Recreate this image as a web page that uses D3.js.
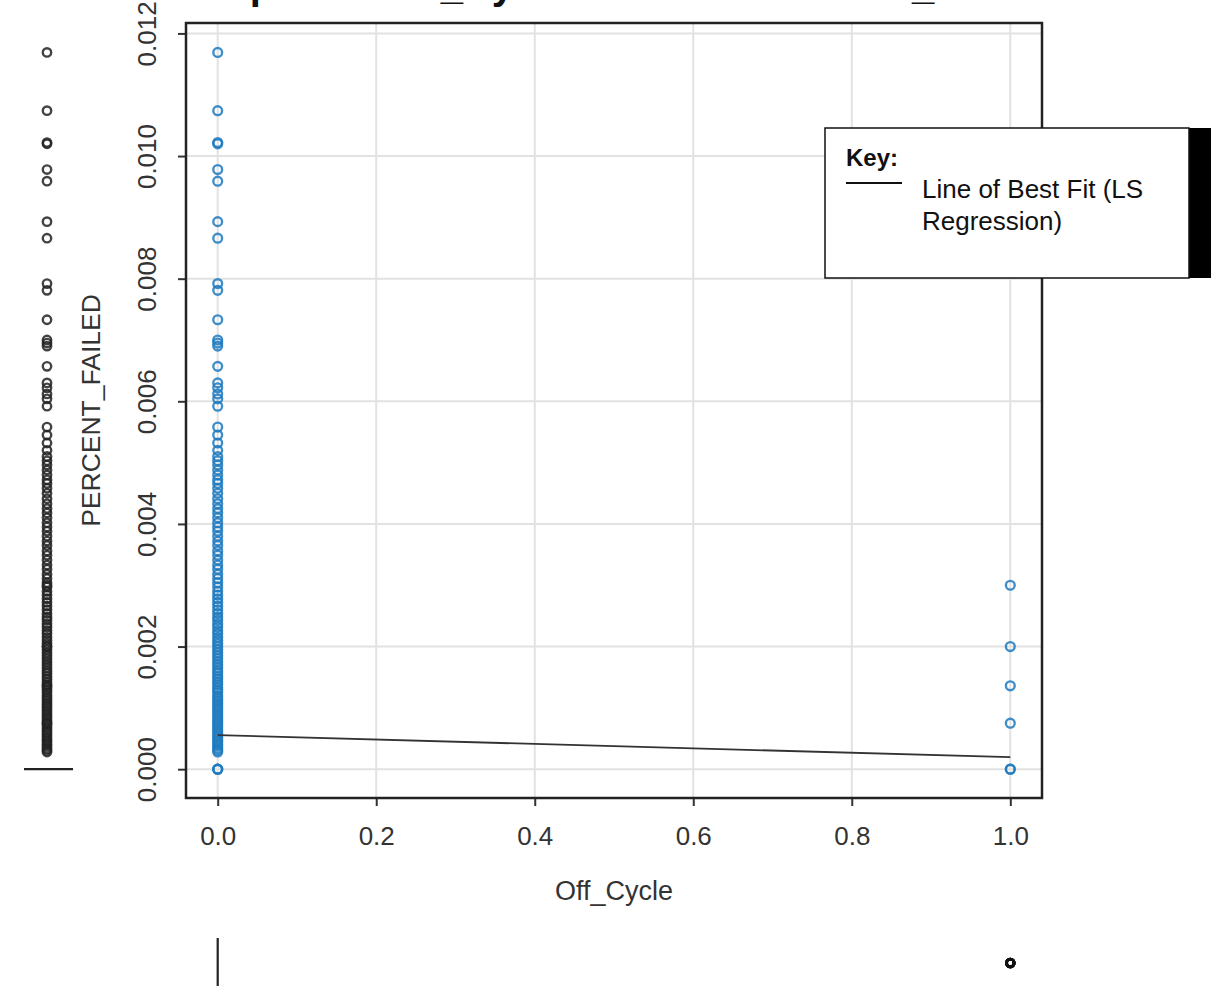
<!DOCTYPE html>
<html>
<head>
<meta charset="utf-8">
<script src="https://cdn.jsdelivr.net/npm/d3@7"></script>
<style>
  body { margin: 0; background: #fff; }
  svg { display: block; font-family: "Liberation Sans", Arial, sans-serif; }
</style>
</head>
<body>
<svg id="canvas" width="1211" height="986"></svg>
<script>
// values
let onCycleFailed = [0.01169, 0.01074, 0.01022, 0.01020, 0.00978, 0.00959, 0.00893, 0.00866,
  0.00792, 0.00781, 0.00733, 0.00700, 0.00695, 0.00690, 0.00657, 0.00630, 0.00622, 0.00612,
  0.00604, 0.00592, 0.00558, 0.00545, 0.00532, 0.00520, 0.00510, 0.00503, 0.00496, 0.00488,
  0.00480, 0.00472, 0.00466, 0.00458, 0.00450, 0.00441, 0.00433, 0.00425, 0.00418, 0.00410,
  0.00402, 0.00395, 0.00388, 0.00380, 0.00372, 0.00365, 0.00356, 0.00349, 0.00341, 0.00333,
  0.00326, 0.00318, 0.00311, 0.00304, 0.00297, 0.00290, 0.00284, 0.00278, 0.00272, 0.00266,
  0.00260, 0.00254, 0.00248, 0.00243, 0.00237, 0.00232, 0.00226, 0.00221, 0.00215, 0.00210,
  0.00205, 0.00200, 0.00195, 0.00190, 0.00185, 0.00180, 0.00175, 0.00170, 0.00165, 0.00160,
  0.00156, 0.00151, 0.00147, 0.00142, 0.00138, 0.00133, 0.00129, 0.00125, 0.00120, 0.00116,
  0.00112, 0.00108, 0.00104, 0.00100, 0.00096, 0.00092, 0.00088, 0.00084, 0.00080, 0.00076,
  0.00072, 0.00068, 0.00064, 0.00060, 0.00056, 0.00052, 0.00048, 0.00045, 0.00041, 0.00038,
  0.00034, 0.00031, 0.00028, 0, 0, 0]
let offCycleFailed = [0.00300, 0.00200, 0.00136, 0.00075, 0, 0]

let xTicks = [0, 0.2, 0.4, 0.6, 0.8, 1.0]
let yTicks = [0, 0.002, 0.004, 0.006, 0.008, 0.010, 0.012]
let fitStart = [0, 0.000556]
let fitEnd = [1, 0.000196]

let titleText = 'Scatterplot of Off_Cycle versus PERCENT_FAILED'
let xLabel = 'Off_Cycle'
let yLabel = 'PERCENT_FAILED'
let keyTitle = 'Key:'
let keyLines = ['Line of Best Fit (LS', 'Regression)']

let points = onCycleFailed.map(v => ({x: 0, y: v}))
  .concat(offCycleFailed.map(v => ({x: 1, y: v})))

let svg = d3.select('#canvas')

let plotLeft = 186, plotRight = 1042, plotTop = 23, plotBottom = 798
let xScale = d3.scaleLinear().domain([-0.04, 1.04]).range([plotLeft, plotRight])
let yScale = d3.scaleLinear().domain([-0.00047, 0.01217]).range([plotBottom, plotTop])

// title, cut off at the top edge as in the source image
svg.append('text')
  .attr('x', 114).attr('y', -1)
  .attr('font-size', 40).attr('font-weight', 'bold')
  .attr('fill', '#111')
  .text(titleText)

// grid
svg.append('g').selectAll('line')
  .data(xTicks).enter().append('line')
  .attr('x1', d => xScale(d)).attr('x2', d => xScale(d))
  .attr('y1', plotTop).attr('y2', plotBottom)
  .attr('stroke', '#e2e2e2').attr('stroke-width', 2)
svg.append('g').selectAll('line')
  .data(yTicks).enter().append('line')
  .attr('x1', plotLeft).attr('x2', plotRight)
  .attr('y1', d => yScale(d)).attr('y2', d => yScale(d))
  .attr('stroke', '#e2e2e2').attr('stroke-width', 2)

// axes
let xAxis = d3.axisBottom(xScale).tickValues(xTicks).tickSize(8).tickPadding(21).tickFormat(d3.format('.1f'))
let yAxis = d3.axisLeft(yScale).tickValues(yTicks).tickSize(8).tickFormat(d3.format('.3f'))

let gx = svg.append('g').attr('transform', `translate(0,${plotBottom})`).call(xAxis)
gx.select('.domain').remove()
gx.selectAll('line').attr('stroke', '#333').attr('stroke-width', 2)
gx.selectAll('text').attr('font-size', 26).attr('fill', '#333')
  .attr('font-family', '"Liberation Sans", Arial, sans-serif')

let gy = svg.append('g').attr('transform', `translate(${plotLeft},0)`).call(yAxis)
gy.select('.domain').remove()
gy.selectAll('line').attr('stroke', '#333').attr('stroke-width', 2)
gy.selectAll('text')
  .attr('font-size', 26).attr('fill', '#333')
  .attr('font-family', '"Liberation Sans", Arial, sans-serif')
  .attr('text-anchor', 'middle').attr('dy', null)
  .attr('x', null)
  .attr('transform', 'translate(-30,0) rotate(-90)')

// frame
svg.append('rect')
  .attr('x', plotLeft).attr('y', plotTop)
  .attr('width', plotRight - plotLeft).attr('height', plotBottom - plotTop)
  .attr('fill', 'none').attr('stroke', '#222').attr('stroke-width', 2.5)

// axis titles
svg.append('text')
  .attr('x', (plotLeft + plotRight) / 2).attr('y', 900)
  .attr('text-anchor', 'middle').attr('font-size', 27).attr('fill', '#333')
  .text(xLabel)
svg.append('text')
  .attr('transform', `translate(100,${(plotTop + plotBottom) / 2}) rotate(-90)`)
  .attr('text-anchor', 'middle').attr('font-size', 26.5).attr('fill', '#333')
  .text(yLabel)

// points
svg.append('g').selectAll('circle')
  .data(points).enter().append('circle')
  .attr('cx', d => xScale(d.x)).attr('cy', d => yScale(d.y))
  .attr('r', 4.4)
  .attr('fill', 'none').attr('stroke', '#1f7ac0')
  .attr('stroke-width', 2.4).attr('stroke-opacity', 0.85)

// line of best fit
svg.append('line')
  .attr('x1', xScale(fitStart[0])).attr('y1', yScale(fitStart[1]))
  .attr('x2', xScale(fitEnd[0])).attr('y2', yScale(fitEnd[1]))
  .attr('stroke', '#333').attr('stroke-width', 1.8)

// marginal boxplot of PERCENT_FAILED (left)
let allFailed = onCycleFailed.concat(offCycleFailed)
svg.append('line')
  .attr('x1', 24).attr('x2', 73)
  .attr('y1', yScale(0)).attr('y2', yScale(0))
  .attr('stroke', '#222').attr('stroke-width', 2.2)
svg.append('g').selectAll('circle')
  .data(allFailed.filter(v => v > 0)).enter().append('circle')
  .attr('cx', 47).attr('cy', d => yScale(d))
  .attr('r', 4.2)
  .attr('fill', 'none').attr('stroke', '#222')
  .attr('stroke-width', 2.4).attr('stroke-opacity', 0.85)

// marginal boxplot of Off_Cycle (bottom)
svg.append('line')
  .attr('x1', xScale(0)).attr('x2', xScale(0))
  .attr('y1', 938).attr('y2', 990)
  .attr('stroke', '#222').attr('stroke-width', 2.2)
svg.append('g').selectAll('circle')
  .data(offCycleFailed).enter().append('circle')
  .attr('cx', xScale(1)).attr('cy', 963)
  .attr('r', 3.8)
  .attr('fill', 'none').attr('stroke', '#111')
  .attr('stroke-width', 2.8)

// key box
let key = svg.append('g')
key.append('rect')
  .attr('x', 1189).attr('y', 128).attr('width', 30).attr('height', 150)
  .attr('fill', '#000')
key.append('rect')
  .attr('x', 825).attr('y', 128).attr('width', 364).attr('height', 150)
  .attr('fill', '#fff').attr('stroke', '#111').attr('stroke-width', 1.5)
key.append('text')
  .attr('x', 846).attr('y', 166)
  .attr('font-size', 24).attr('font-weight', 'bold').attr('fill', '#111')
  .text(keyTitle)
key.append('line')
  .attr('x1', 846).attr('x2', 902).attr('y1', 183).attr('y2', 183)
  .attr('stroke', '#111').attr('stroke-width', 2)
key.selectAll('.keyline')
  .data(keyLines).enter().append('text')
  .attr('x', 922).attr('y', (d, i) => 198 + i * 32)
  .attr('font-size', 26).attr('fill', '#111')
  .text(d => d)
</script>
</body>
</html>
